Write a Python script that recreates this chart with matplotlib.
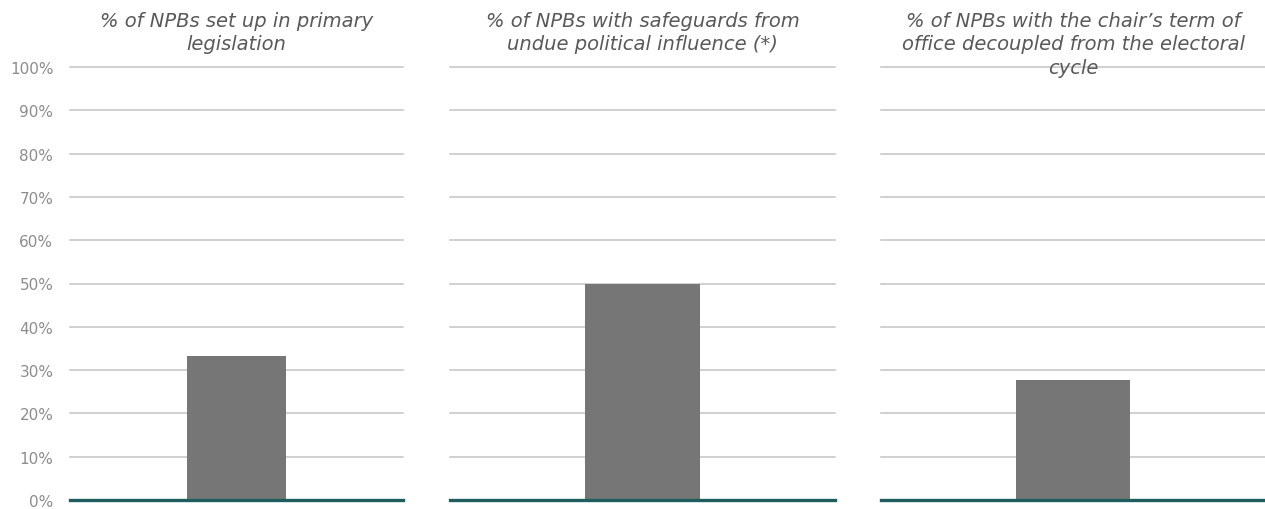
import matplotlib
matplotlib.use("Agg")
import matplotlib.pyplot as plt
from matplotlib.ticker import PercentFormatter

titles = [
    "% of NPBs set up in primary\nlegislation",
    "% of NPBs with safeguards from\nundue political influence (*)",
    "% of NPBs with the chair\u2019s term of\noffice decoupled from the electoral\ncycle",
]
values = [33.3, 50.0, 27.8]
yticks = [0, 10, 20, 30, 40, 50, 60, 70, 80, 90, 100]

W, H = 1265, 510
fig = plt.figure(figsize=(W / 100, H / 100), dpi=100)

panels_px = [(70, 403), (450, 835), (881, 1265)]
y0_px, y100_px = 501, 68

bar_color = "#767676"
grid_color = "#c3c3c3"
base_color = "#1e5c5e"

for i, ((x0, x1), title, val) in enumerate(zip(panels_px, titles, values)):
    ax = fig.add_axes([x0 / W, (H - y0_px) / H, (x1 - x0) / W, (y0_px - y100_px) / H])
    ax.set_xlim(-0.5, 0.5)
    ax.set_ylim(0, 100)
    ax.bar([0], [val], width=0.297, color=bar_color, zorder=2)
    ax.set_yticks(yticks)
    for t in yticks[1:]:
        ax.axhline(t, color=grid_color, lw=1.1, zorder=1, clip_on=False)
    ax.axhline(0, color=base_color, lw=2.4, zorder=3, clip_on=False)
    for s in ax.spines.values():
        s.set_visible(False)
    ax.set_xticks([])
    ax.tick_params(axis="y", length=0, pad=12, labelsize=11, labelcolor="#8c8c8c")
    ax.yaxis.set_major_formatter(PercentFormatter(decimals=0))
    if i > 0:
        ax.set_yticklabels([])
    cx = (x0 + x1) / 2 / W
    fig.text(cx, 1 - 12 / H, title, ha="center", va="top", fontsize=14,
             style="italic", color="#595959", linespacing=1.3, zorder=5)

fig.savefig("out.png", dpi=100)
